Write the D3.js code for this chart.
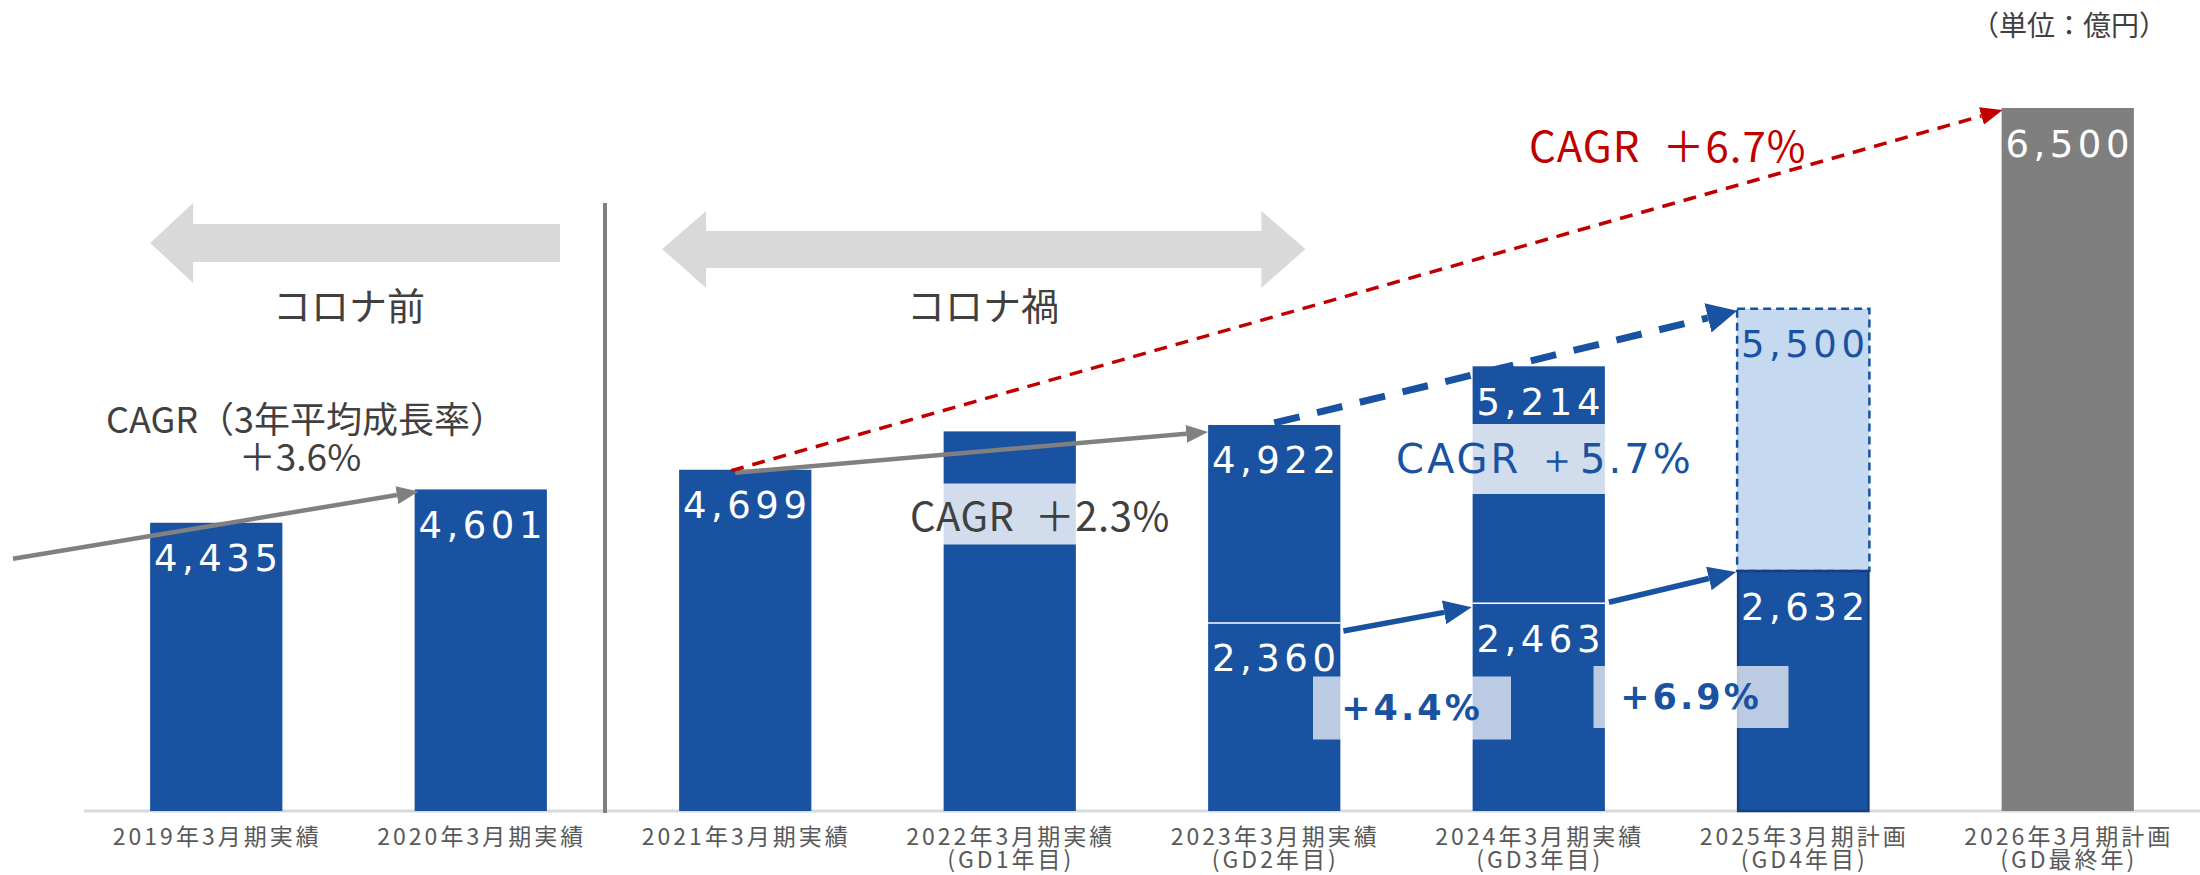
<!DOCTYPE html>
<html>
<head>
<meta charset="utf-8">
<script src="https://cdn.jsdelivr.net/npm/d3@7"></script>
<style>
body { margin: 0; background: #fff; }
svg { display: block; font-family: 'Noto Sans CJK JP', 'Noto Sans', sans-serif; }
</style>
</head>
<body>
<svg width="2200" height="875"></svg>
<script>
const categories = ['2019年3月期実績', '2020年3月期実績', '2021年3月期実績', '2022年3月期実績', '2023年3月期実績', '2024年3月期実績', '2025年3月期計画', '2026年3月期計画']
const subCategories = ['', '', '', '(GD1年目)', '(GD2年目)', '(GD3年目)', '(GD4年目)', '(GD最終年)']
const totals = [4435, 4601, 4699, 4890, 4922, 5214, 5500, 6500]
const lowerPart = [null, null, null, null, 2360, 2463, 2632, null]
const barTypes = ['actual', 'actual', 'actual', 'actual', 'actual', 'actual', 'plan', 'target']
const showTotal = [true, true, true, false, true, true, true, true]

const svg = d3.select('svg')
const width = +svg.attr('width')
const height = +svg.attr('height')

const blue = '#1a52a2'
const navy = '#163f80'
const darkText = '#404040'
const numFont = "'DejaVu Sans', sans-serif"

const data = categories.map((c, i) => ({
	cat: c, sub: subCategories[i], total: totals[i], lower: lowerPart[i], type: barTypes[i], show: showTotal[i]
}))
const byCat = {}
data.forEach(d => byCat[d.cat.slice(0, 4)] = d)

const baseline = 811
const x = d3.scaleBand()
	.domain(categories)
	.range([84, width])
	.paddingInner(0.5)
	.paddingOuter(0.25)
const bw = x.bandwidth()
const y = d3.scaleLinear().domain([3000, 6500]).range([baseline, 108])
// lower segments (GD core part) sit on their own truncated scale
const ySub = d3.scaleLinear().domain([1376, 2632]).range([baseline, 571])

const xs = yr => x(byCat[yr].cat)
const yt = yr => y(byCat[yr].total)
const yl = yr => ySub(byCat[yr].lower)

const defs = svg.append('defs')
const marker = (id, color, len, half) => defs.append('marker')
	.attr('id', id)
	.attr('markerUnits', 'userSpaceOnUse')
	.attr('viewBox', `0 ${-half} ${len} ${half * 2}`)
	.attr('markerWidth', len)
	.attr('markerHeight', half * 2)
	.attr('refX', 0)
	.attr('refY', 0)
	.attr('orient', 'auto')
	.append('path')
	.attr('d', `M0,${-half}L${len},0L0,${half}Z`)
	.attr('fill', color)
marker('head-gray', '#808080', 22, 9)
marker('head-red', '#c00000', 22, 9)
marker('head-blue', blue, 28, 12)
marker('head-blue-big', blue, 30, 15)

const arrow = (layer, p0, p1, color, w, id, len, dash) => {
	const dx = p1[0] - p0[0], dy = p1[1] - p0[1], d = Math.hypot(dx, dy)
	layer.append('line')
		.attr('x1', p0[0]).attr('y1', p0[1])
		.attr('x2', p1[0] - dx / d * len).attr('y2', p1[1] - dy / d * len)
		.attr('stroke', color)
		.attr('stroke-width', w)
		.attr('stroke-dasharray', dash || null)
		.attr('marker-end', `url(#${id})`)
}

const g = svg.append('g')

// period arrows
const blockArrow = d3.line()
const leftTip = xs('2019')
g.append('path')
	.attr('d', blockArrow([[leftTip, 243], [leftTip + 43, 203], [leftTip + 43, 224], [560, 224], [560, 262], [leftTip + 43, 262], [leftTip + 43, 283]]) + 'Z')
	.attr('fill', '#d9d9d9')
const dl = xs('2021') - 17, dr = xs('2023') + bw - 35
g.append('path')
	.attr('d', blockArrow([[dl, 249], [dl + 44, 211], [dl + 44, 231], [dr - 44, 231], [dr - 44, 211], [dr, 249], [dr - 44, 288], [dr - 44, 268], [dl + 44, 268], [dl + 44, 288]]) + 'Z')
	.attr('fill', '#d9d9d9')

g.append('text').attr('x', 349).attr('y', 303).text('コロナ前')
	.attr('font-size', 38).attr('fill', darkText).attr('text-anchor', 'middle').attr('dominant-baseline', 'central')
g.append('text').attr('x', 983).attr('y', 303).text('コロナ禍')
	.attr('font-size', 38).attr('fill', darkText).attr('text-anchor', 'middle').attr('dominant-baseline', 'central')
g.append('text').attr('x', 2069).attr('y', 24).text('（単位：億円）')
	.attr('font-size', 28).attr('fill', darkText).attr('text-anchor', 'middle').attr('dominant-baseline', 'central')

// axis
g.append('line')
	.attr('x1', 84).attr('x2', width)
	.attr('y1', baseline).attr('y2', baseline)
	.attr('stroke', '#d9d9d9').attr('stroke-width', 3)

const xLabels = g.append('g')
	.attr('font-size', 23)
	.attr('letter-spacing', 3)
	.attr('fill', '#595959')
	.attr('text-anchor', 'middle')
	.selectAll('text')
	.data(data)
	.enter()
	.append('text')
	.attr('y', 845)
xLabels.append('tspan')
	.attr('x', d => x(d.cat) + bw / 2 + 1)
	.text(d => d.cat)
xLabels.filter(d => d.sub)
	.append('tspan')
	.attr('x', d => x(d.cat) + bw / 2 + 1)
	.attr('dy', 23)
	.text(d => d.sub)

// GD plan trend (behind the bars)
arrow(g, [xs('2023') + bw / 2, yt('2023') - 2], [xs('2025'), yt('2025') + 2], blue, 7, 'head-blue-big', 30, '26,18')

// bars
g.selectAll('.bar')
	.data(data.filter(d => d.type !== 'plan'))
	.enter()
	.append('rect')
	.attr('class', 'bar')
	.attr('x', d => x(d.cat))
	.attr('y', d => y(d.total))
	.attr('width', bw)
	.attr('height', d => baseline - y(d.total))
	.attr('fill', d => d.type === 'target' ? '#7f7f7f' : blue)

const plan = data.filter(d => d.type === 'plan')
g.selectAll('.plan-top')
	.data(plan)
	.enter()
	.append('rect')
	.attr('x', d => x(d.cat))
	.attr('y', d => y(d.total))
	.attr('width', bw)
	.attr('height', d => ySub(d.lower) - y(d.total))
	.attr('fill', '#c5d9f0')
	.attr('stroke', blue)
	.attr('stroke-width', 2.5)
	.attr('stroke-dasharray', '8,5')
g.selectAll('.plan-low')
	.data(plan)
	.enter()
	.append('rect')
	.attr('x', d => x(d.cat) + 1)
	.attr('y', d => ySub(d.lower))
	.attr('width', bw - 2)
	.attr('height', d => baseline - ySub(d.lower))
	.attr('fill', blue)
	.attr('stroke', navy)
	.attr('stroke-width', 2.5)

g.selectAll('.split')
	.data(data.filter(d => d.lower && d.type === 'actual'))
	.enter()
	.append('line')
	.attr('x1', d => x(d.cat))
	.attr('x2', d => x(d.cat) + bw)
	.attr('y1', d => ySub(d.lower))
	.attr('y2', d => ySub(d.lower))
	.attr('stroke', '#fff')
	.attr('stroke-width', 1.5)

// corona divider
g.append('line')
	.attr('x1', 605).attr('x2', 605)
	.attr('y1', 203).attr('y2', baseline + 2)
	.attr('stroke', '#808080').attr('stroke-width', 4)

// trend arrows
arrow(g, [13, yt('2019') + 36], [xs('2020') + 4, yt('2020') + 2], '#808080', 4.5, 'head-gray', 22)
arrow(g, [xs('2021') + 56, yt('2021') + 3], [xs('2023'), yt('2023') + 7], '#808080', 4.5, 'head-gray', 22)
arrow(g, [xs('2021') + 52, yt('2021') + 1], [xs('2026') + 1, yt('2026') + 2], '#c00000', 3.5, 'head-red', 22, '13,9')
arrow(g, [xs('2023') + bw + 3, yl('2023') + 8], [xs('2024') - 1, yl('2024') + 4], blue, 5.5, 'head-blue', 28)
arrow(g, [xs('2024') + bw + 4, yl('2024') - 1], [xs('2025') - 1, yl('2025') + 1], blue, 5.5, 'head-blue', 28)

// annotation texts with translucent boxes
const note = (tx, ty, str, opts) => {
	const box = g.append('rect')
	const t = g.append('text')
		.attr('x', tx).attr('y', ty)
		.attr('dominant-baseline', 'central')
		.attr('text-anchor', opts.anchor || 'start')
		.attr('font-size', opts.size)
		.attr('font-family', opts.font || null)
		.attr('font-weight', opts.weight || null)
		.attr('letter-spacing', opts.ls || null)
		.attr('fill', opts.color)
		.text(str)
	if (opts.box) {
		const bb = t.node().getBBox()
		const bwid = opts.box.w || bb.width
		box.attr('x', bb.x + bb.width / 2 - bwid / 2)
			.attr('y', ty - opts.box.h / 2)
			.attr('width', bwid)
			.attr('height', opts.box.h)
			.attr('fill', '#fff')
			.attr('fill-opacity', opts.box.op)
	} else {
		box.remove()
	}
}

note(306, 417, 'CAGR（3年平均成長率）', {size: 36, color: darkText, anchor: 'middle'})
note(300, 455, '＋3.6%', {size: 37, color: darkText, anchor: 'middle'})
note(910, 514, 'CAGR\u2002＋2.3%', {size: 40, color: darkText, ls: 0.5, box: {h: 61, op: 0.8}})
note(1529, 143, 'CAGR\u2002＋6.7%', {size: 42, color: '#c00000', ls: 1})
note(1396, 459, 'CAGR ＋5.7%', {size: 40, color: blue, font: numFont, ls: 3, box: {h: 70, op: 0.8}})
note(1412, 708, '+4.4%', {size: 35, color: blue, font: numFont, weight: 'bold', ls: 3, anchor: 'middle', box: {w: 198, h: 63, op: 0.7}})
note(1691, 697, '+6.9%', {size: 35, color: blue, font: numFont, weight: 'bold', ls: 3, anchor: 'middle', box: {w: 195, h: 62, op: 0.7}})

// value labels
const fmt = d3.format(',')
const valueLabel = (cls, rows, yv, val) => g.selectAll('.' + cls)
	.data(rows)
	.enter()
	.append('text')
	.attr('class', cls)
	.attr('x', d => x(d.cat) + bw / 2 + 2)
	.attr('y', d => yv(d) + 36)
	.attr('dominant-baseline', 'central')
	.attr('text-anchor', 'middle')
	.attr('font-family', numFont)
	.attr('font-size', 37)
	.attr('letter-spacing', 4.5)
	.attr('fill', d => d.type === 'plan' && val(d) === d.total ? blue : '#fff')
	.text(d => fmt(val(d)))

valueLabel('val', data.filter(d => d.show), d => y(d.total), d => d.total)
valueLabel('lowval', data.filter(d => d.lower), d => ySub(d.lower), d => d.lower)
</script>
</body>
</html>
